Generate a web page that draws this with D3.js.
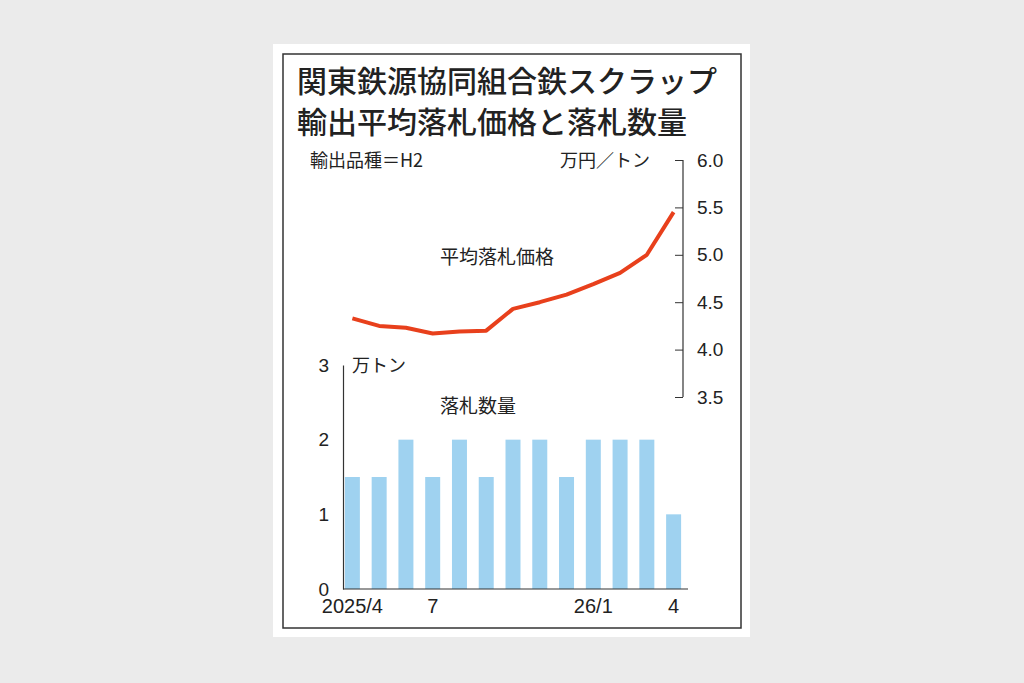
<!DOCTYPE html>
<html lang="ja">
<head>
<meta charset="UTF-8">
<script src="https://d3js.org/d3.v7.min.js"></script>
<style>
  body { margin: 0; background: #ebebeb; }
  text { font-family: "Noto Sans CJK JP", "Noto Sans", sans-serif; fill: #222; }
</style>
</head>
<body>
<svg width="1024" height="683"></svg>
<script>
// data
const months = ["2025/4","5","6","7","8","9","10","11","12","26/1","2","3","4"];
const shownLabels = {"2025/4": "2025/4", "7": "7", "26/1": "26/1", "4": "4"};
const price = [4.33, 4.25, 4.23, 4.17, 4.19, 4.20, 4.43, 4.50, 4.58, 4.69, 4.81, 5.00, 5.45];
const volume = [1.5, 1.5, 2, 1.5, 2, 1.5, 2, 2, 1.5, 2, 2, 2, 1];
const priceTicks = [3.5, 4.0, 4.5, 5.0, 5.5, 6.0];
const volTicks = [0, 1, 2, 3];

const svg = d3.select("svg");
svg.append("rect").attr("x", 273).attr("y", 44).attr("width", 477).attr("height", 593).attr("fill", "#fff");
svg.append("rect").attr("x", 283).attr("y", 54).attr("width", 458).attr("height", 574)
  .attr("fill", "none").attr("stroke", "#333").attr("stroke-width", 1.5);

// titles
svg.append("text").attr("x", 297).attr("y", 92).attr("font-size", 30).attr("font-weight", 500)
  .text("関東鉄源協同組合鉄スクラップ");
svg.append("text").attr("x", 297).attr("y", 133).attr("font-size", 30).attr("font-weight", 500)
  .text("輸出平均落札価格と落札数量");
svg.append("text").attr("x", 310).attr("y", 167).attr("font-size", 18).text("輸出品種＝H2");
svg.append("text").attr("x", 560).attr("y", 167).attr("font-size", 18).text("万円／トン");

const x = d3.scaleBand().domain(months).range([339, 687]).paddingInner(0.44).paddingOuter(0.22);
const yP = d3.scaleLinear().domain([3.5, 6.0]).range([397, 160]);
const yV = d3.scaleLinear().domain([0, 3]).range([589, 365]);

// bars
svg.append("g").selectAll("rect").data(volume).join("rect")
  .attr("x", (d, i) => x(months[i]))
  .attr("width", x.bandwidth())
  .attr("y", d => yV(d))
  .attr("height", d => yV(0) - yV(d))
  .attr("fill", "#9fd2f0");

// left axis
const gl = svg.append("g").attr("transform", "translate(343,0)")
  .call(d3.axisLeft(yV).tickValues(volTicks).tickSize(0).tickPadding(14).tickFormat(d3.format("d")));
gl.select(".domain").attr("stroke", "#333").attr("stroke-width", 1.2);
gl.selectAll("text").attr("font-size", 19).style("font-family", "Liberation Sans, Arial, sans-serif");
svg.append("text").attr("x", 352).attr("y", 372).attr("font-size", 18).text("万トン");
svg.append("text").attr("x", 440).attr("y", 413).attr("font-size", 19).text("落札数量");

// bottom axis
const gb = svg.append("g").attr("transform", "translate(0,589)")
  .call(d3.axisBottom(x).tickSize(0).tickPadding(10).tickFormat(d => shownLabels[d] || ""));
gb.select(".domain").attr("stroke", "#333").attr("stroke-width", 1.2).attr("d", "M343,0H688");
gb.selectAll("text").attr("font-size", 20).style("font-family", "Liberation Sans, Arial, sans-serif");

// right axis
const gr = svg.append("g").attr("transform", "translate(683,0)")
  .call(d3.axisRight(yP).tickValues(priceTicks).tickSize(-8).tickPadding(14).tickFormat(d3.format(".1f")));
gr.selectAll("line").attr("stroke", "#333").attr("x2", -8);
gr.select(".domain").attr("stroke", "#333").attr("stroke-width", 1.2).attr("d", "M0,160V397");
gr.selectAll("text").attr("font-size", 19).style("font-family", "Liberation Sans, Arial, sans-serif");

// price line
const line = d3.line().x((d, i) => x(months[i]) + x.bandwidth() / 2).y(d => yP(d));
svg.append("path").datum(price).attr("d", line).attr("fill", "none")
  .attr("stroke", "#e8401c").attr("stroke-width", 4).attr("stroke-linejoin", "round");
svg.append("text").attr("x", 440).attr("y", 264).attr("font-size", 19).text("平均落札価格");
</script>
</body>
</html>
